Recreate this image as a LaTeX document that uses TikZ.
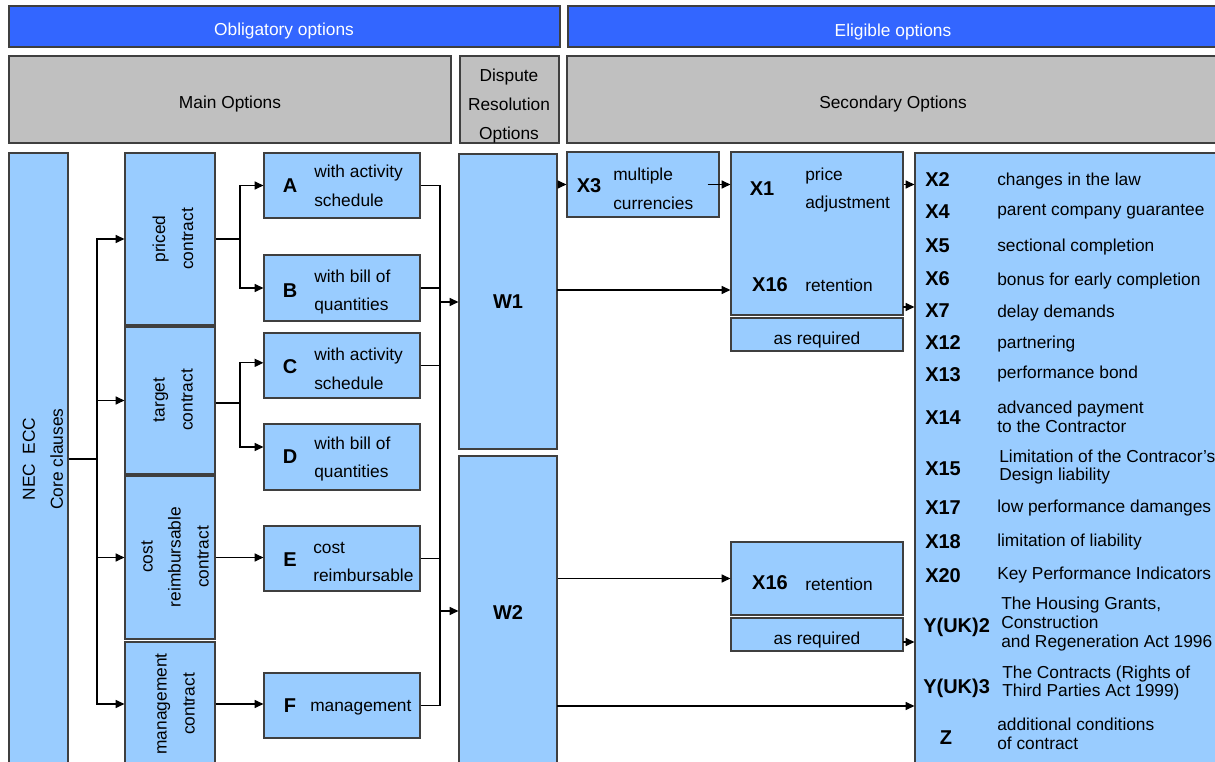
\documentclass[tikz,border=0pt]{standalone}
\usepackage{fontspec}
\setmainfont{Liberation Sans}
\usetikzlibrary{positioning,fit,arrows.meta}

\definecolor{optblue}{HTML}{99CCFF}
\definecolor{barblue}{HTML}{3366FF}
\definecolor{headgrey}{HTML}{C0C0C0}
\definecolor{rim}{HTML}{3F3F3F}

\tikzset{
  blk/.style={draw=rim, fill=optblue, line width=0.9pt, inner sep=0pt},
  bar/.style={draw=rim, fill=barblue, line width=0.9pt, inner sep=0pt},
  head/.style={draw=rim, fill=headgrey, line width=0.9pt, inner sep=0pt},
  lbl/.style={inner sep=0pt, align=center, font=\fontsize{13}{21.4}\selectfont},
  txt/.style={inner sep=0pt, align=left, anchor=west, font=\fontsize{13}{21.7}\selectfont},
  vtxt/.style={inner sep=0pt, align=center, rotate=90, font=\fontsize{13}{21}\selectfont},
  code/.style={inner sep=0pt, font=\fontsize{15}{18}\selectfont\bfseries},
  lcode/.style={inner sep=0pt, anchor=west, font=\fontsize{15}{18}\selectfont\bfseries},
  item/.style={inner sep=0pt, anchor=west, align=left, font=\fontsize{13}{14}\selectfont},
  arr/.style={-{Triangle[length=6.5pt,width=6pt]}, line width=0.9pt},
  link/.style={line width=0.9pt}
}

\begin{document}
\begin{tikzpicture}[x=0.75pt,y=-0.75pt]
\useasboundingbox (0,0) rectangle (1215,762);

% headers
\node[bar, fit={(9,6) (560,47)}] (obl) {};
\node[lbl, text=white] (oblT) at (284,31) {Obligatory options};
\node[bar, fit={(568,6) (1222,47)}] (elig) {};
\node[lbl, text=white] (eligT) at (893,32) {Eligible options};
\node[head, fit={(9,56) (451,143)}] (mainopt) {};
\node[lbl] (mainoptT) at (230,104) {Main Options};
\node[head, fit={(460,56) (559,143)}] (dispute) {};
\node[lbl] (disputeT) at (509,106) {Dispute\\Resolution\\Options};
\node[head, fit={(567,56) (1222,143)}] (secopt) {};
\node[lbl] (secoptT) at (893,104) {Secondary Options};

% core clauses and contract types
\node[blk, fit={(9,153) (68,766)}] (nec) {};
\node[vtxt] (necT) at (43,459) {NEC\ \ ECC\\Core clauses};
\node[blk, fit={(125,153) (215,325)}] (priced) {};
\node[vtxt] (pricedT) at (173,239) {priced\\contract};
\node[blk, fit={(125,327) (215,474)}] (target) {};
\node[vtxt] (targetT) at (173,400) {target\\contract};
\node[blk, fit={(125,476) (215,639)}] (cost) {};
\node[vtxt] (costT) at (175,557) {cost\\reimbursable\\contract};
\node[blk, fit={(125,642) (215,766)}] (mgmt) {};
\node[vtxt] (mgmtT) at (175,704) {management\\contract};

% main options A-F
\node[blk, fit={(264,153) (420,218)}] (A) {};
\node[code] (Al) at (290,186) {A};
\node[txt] (At) at (314,186) {with activity\\schedule};
\node[blk, fit={(264,255) (420,321)}] (B) {};
\node[code] (Bl) at (290,291) {B};
\node[txt] (Bt) at (314,292) {with bill of\\quantities};
\node[blk, fit={(264,333) (420,398)}] (C) {};
\node[code] (Cl) at (290,367) {C};
\node[txt] (Ct) at (314,369) {with activity\\schedule};
\node[blk, fit={(264,424) (420,490)}] (D) {};
\node[code] (Dl) at (290,457) {D};
\node[txt] (Dt) at (314,459) {with bill of\\quantities};
\node[blk, fit={(264,526) (420,591)}] (E) {};
\node[code] (El) at (290,560) {E};
\node[txt] (Et) at (313,562) {cost\\reimbursable};
\node[blk, fit={(264,673) (420,738)}] (F) {};
\node[code] (Fl) at (290,706) {F};
\node[txt] (Ft) at (310,708) {management};

% dispute resolution
\node[blk, fit={(459,154) (557,449)}] (W1) {};
\node[code] (W1T) at (508,302) {W1};
\node[blk, fit={(459,456) (557,766)}] (W2) {};
\node[code] (W2T) at (508,613) {W2};

% secondary options
\node[blk, fit={(567,152) (719,217)}] (X3) {};
\node[code] (X3l) at (589,186) {X3};
\node[txt] (X3t) at (613,189) {multiple\\currencies};
\node[blk, fit={(731,152) (903,315)}] (X1box) {};
\node[code] (X1l) at (762,189) {X1};
\node[txt] (X1t) at (805,190) {price\\adjustment};
\node[code] (X16l) at (770,285) {X16};
\node[txt] (X16t) at (805,285) {retention};
\node[blk, fit={(731,318) (903,351)}] (req1) {};
\node[lbl] (req1T) at (817,340) {as required};
\node[blk, fit={(731,542) (903,615)}] (X16b) {};
\node[code] (X16bl) at (770,583) {X16};
\node[txt] (X16bt) at (805,584) {retention};
\node[blk, fit={(731,618) (903,651)}] (req2) {};
\node[lbl] (req2T) at (817,640) {as required};

% list of secondary options
\node[blk, fit={(915,153) (1222,766)}] (xlist) {};
\node[lcode] (c2) at (925,180) {X2};
\node[item] (t2) at (997,181) {changes in the law};
\node[lcode] (c4) at (925,212) {X4};
\node[item] (t4) at (997,212) {parent company guarantee};
\node[lcode] (c5) at (925,246) {X5};
\node[item] (t5) at (997,247) {sectional completion};
\node[lcode] (c6) at (925,279) {X6};
\node[item] (t6) at (997,281) {bonus for early completion};
\node[lcode] (c7) at (925,311) {X7};
\node[item] (t7) at (997,313) {delay demands};
\node[lcode] (c12) at (925,343) {X12};
\node[item] (t12) at (997,344) {partnering};
\node[lcode] (c13) at (925,375) {X13};
\node[item] (t13) at (997,374) {performance bond};
\node[lcode] (c14) at (925,418) {X14};
\node[item] (t14) at (997,417) {advanced payment\\to the Contractor};
\node[lcode] (c15) at (925,469) {X15};
\node[item] (t15) at (999,467) {Limitation of the Contracor's\\Design liability};
\node[lcode] (c17) at (925,508) {X17};
\node[item] (t17) at (997,508) {low performance damanges};
\node[lcode] (c18) at (925,542) {X18};
\node[item] (t18) at (997,542) {limitation of liability};
\node[lcode] (c20) at (925,576) {X20};
\node[item] (t20) at (997,575) {Key Performance Indicators};
\node[lcode] (cy2) at (923,627) {Y(UK)2};
\node[item] (ty2) at (1001,624) {The Housing Grants,\\Construction\\and Regeneration Act 1996};
\node[lcode] (cy3) at (923,688) {Y(UK)3};
\node[item] (ty3) at (1002,683) {The Contracts (Rights of\\Third Parties Act 1999)};
\node[code] (cz) at (946,738) {Z};
\node[item] (tz) at (997,734) {additional conditions\\of contract};

% core clauses to contract types
\coordinate (trunk) at (97,459);
\draw[link] (nec.east |- trunk) -- (trunk);
\draw[arr] (trunk) |- (priced.west);
\draw[arr] (trunk) |- (target.west);
\draw[arr] (trunk) |- (cost.west);
\draw[arr] (trunk) |- (mgmt.west);

% contract types to main options
\coordinate (pj) at (240,239);
\draw[link] (priced.east |- pj) -- (pj);
\draw[arr] (pj) |- (A.west);
\draw[arr] (pj) |- (B.west);
\coordinate (tj) at (240,403);
\draw[link] (target.east |- tj) -- (tj);
\draw[arr] (tj) |- ([yshift=2pt]C.west);
\draw[arr] (tj) |- ([yshift=7.5pt]D.west);
\draw[arr] (cost.east) -- (E.west |- cost.east);
\draw[arr] (mgmt.east) -- (F.west |- mgmt.east);

% main options to dispute resolution
\coordinate (w1in) at (440,302);
\coordinate (w2in) at (440,611);
\draw[link] (A.east) -| (w1in);
\draw[link] (B.east) -| (w1in);
\draw[link] (C.east) -| (w1in);
\draw[link] (C.east) -| (w2in);
\draw[link] (E.east) -| (w2in);
\draw[link] (F.east) -| (w2in);
\draw[arr] (w1in) -- (W1.west |- w1in);
\draw[arr] (w2in) -- (W2.west |- w2in);

% dispute resolution to secondary options
\coordinate (w1out) at (557,290);
\coordinate (x1out) at (903,307);
\coordinate (req2out) at (903,642);
\coordinate (w2out) at (557,706);
\draw[arr] (W1.east |- X3.west) -- (X3.west);
\draw[arr] ([xshift=-9pt]X3.east) -- (X1box.west |- X3.east);
\draw[arr] (w1out) -- (X1box.west |- w1out);
\draw[arr] (X1box.east |- X3.east) -- (xlist.west |- X3.east);
\draw[arr] (x1out) -- (xlist.west |- x1out);
\draw[arr] (W2.east |- X16b.west) -- (X16b.west);
\draw[arr] (req2out) -- (xlist.west |- req2out);
\draw[arr] (w2out) -- (xlist.west |- w2out);
\end{tikzpicture}
\end{document}
